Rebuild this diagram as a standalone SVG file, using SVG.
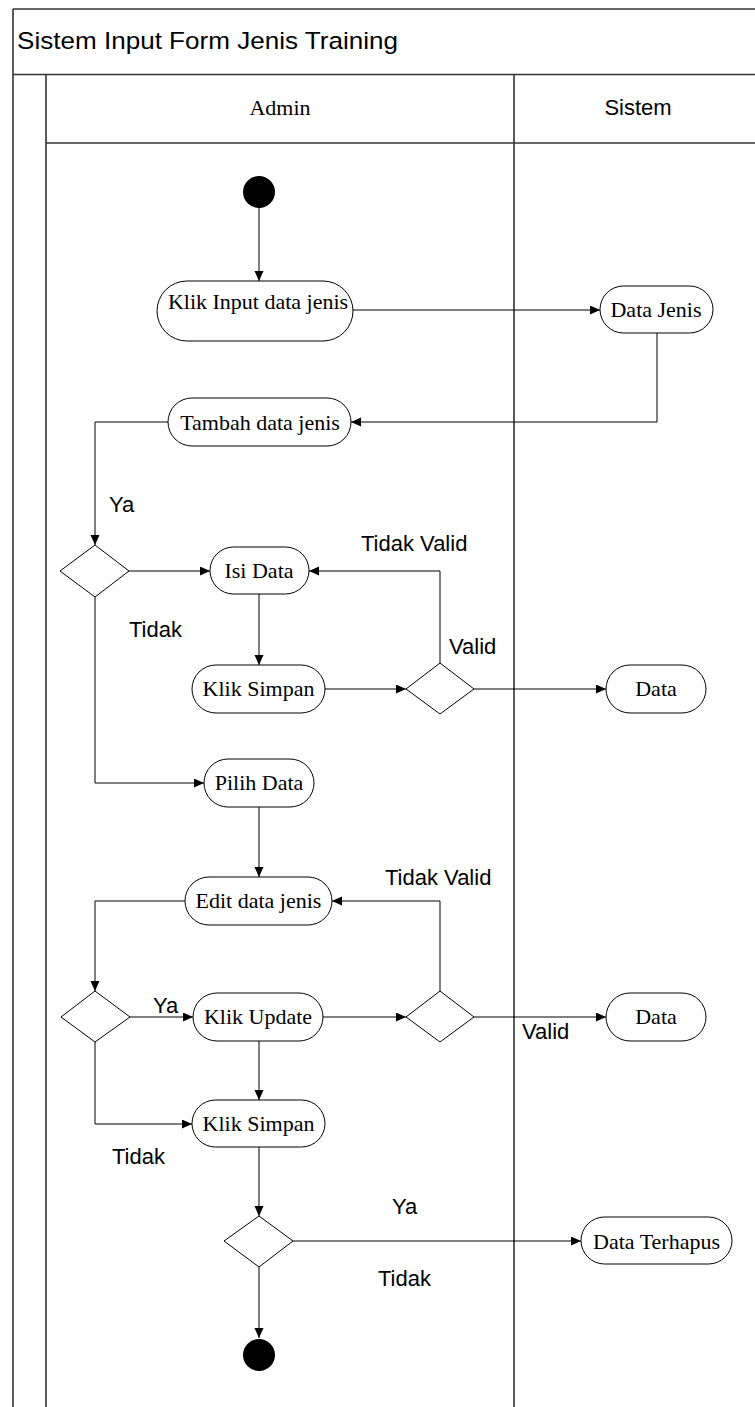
<svg xmlns="http://www.w3.org/2000/svg" width="755" height="1407" viewBox="0 0 755 1407">
<style>
.frame{stroke:#333;stroke-width:1.6;fill:none}
.node{fill:#fff;stroke:#000;stroke-width:1}
.lbl{font-family:"Liberation Serif","Times New Roman",serif;font-size:22px;fill:#000;text-anchor:middle}
.sans{font-family:"Liberation Sans",Arial,sans-serif;font-size:22px;fill:#000}
.conn path{fill:none;stroke:#000;stroke-width:1;marker-end:url(#arr)}
</style>
<defs>
<marker id="arr" markerUnits="userSpaceOnUse" markerWidth="11" markerHeight="10" refX="10" refY="4.5" orient="auto">
<path d="M0,0 L10,4.5 L0,9 z" fill="#000"/>
</marker>
</defs>
<rect width="755" height="1407" fill="#fff"/>
<g id="frame" class="frame">
<path d="M13,9 H755 M13,9 V1407 M13,74.5 H755 M46,74.5 V1407 M46,143 H755 M514,74.5 V1407"/>
</g>
<text class="sans" x="17" y="49" style="font-size:24.5px" textLength="381" lengthAdjust="spacingAndGlyphs">Sistem Input Form Jenis Training</text>
<text class="lbl" x="280" y="115">Admin</text>
<text class="sans" x="638" y="115" text-anchor="middle">Sistem</text>

<g id="connectors" class="conn">
<path d="M259,208 V281"/>
<path d="M353,310 H600"/>
<path d="M657,333 V422 H351"/>
<path d="M168,422 H95 V545"/>
<path d="M129,571 H210"/>
<path d="M440,663 V571 H309"/>
<path d="M259,594 V665"/>
<path d="M325,689 H406"/>
<path d="M474,689 H606"/>
<path d="M95,597 V783 H204"/>
<path d="M259,807 V877"/>
<path d="M440,991 V901 H332"/>
<path d="M185,901 H95 V991"/>
<path d="M130,1017 H193"/>
<path d="M323,1017 H406"/>
<path d="M474,1017 H606"/>
<path d="M259,1041 V1100"/>
<path d="M95,1042 V1124 H192"/>
<path d="M259,1147 V1216"/>
<path d="M293,1241 H581"/>
<path d="M259,1267 V1338"/>
</g>

<g id="start"><circle cx="259" cy="192" r="16" fill="#000"/></g>
<g id="klik-input"><rect class="node" x="157" y="281" width="196" height="60" rx="30"/><text class="lbl" x="258" y="309">Klik Input data jenis</text></g>
<g id="data-jenis"><rect class="node" x="600" y="286" width="113" height="47" rx="23.5"/><text class="lbl" x="656" y="317">Data Jenis</text></g>
<g id="tambah"><rect class="node" x="168" y="398" width="183" height="48" rx="24"/><text class="lbl" x="260" y="430">Tambah data jenis</text></g>
<g id="dec1"><polygon class="node" points="60,571 95,545 129,571 95,597"/></g>
<g id="isi-data"><rect class="node" x="210" y="547" width="99" height="47" rx="23.5"/><text class="lbl" x="259" y="578">Isi Data</text></g>
<g id="klik-simpan1"><rect class="node" x="192" y="665" width="133" height="48" rx="24"/><text class="lbl" x="258.5" y="696">Klik Simpan</text></g>
<g id="dec2"><polygon class="node" points="406,689 440,663 474,689 440,714"/></g>
<g id="data1"><rect class="node" x="606" y="665" width="100" height="48" rx="24"/><text class="lbl" x="656" y="696">Data</text></g>
<g id="pilih-data"><rect class="node" x="204" y="759" width="110" height="48" rx="24"/><text class="lbl" x="259" y="790">Pilih Data</text></g>
<g id="edit"><rect class="node" x="185" y="877" width="147" height="48" rx="24"/><text class="lbl" x="258.5" y="908">Edit data jenis</text></g>
<g id="dec4"><polygon class="node" points="61,1017 95,991 130,1017 95,1042"/></g>
<g id="klik-update"><rect class="node" x="193" y="993" width="130" height="48" rx="24"/><text class="lbl" x="258" y="1024">Klik Update</text></g>
<g id="dec3"><polygon class="node" points="406,1017 440,991 474,1017 440,1042"/></g>
<g id="data2"><rect class="node" x="606" y="993" width="100" height="48" rx="24"/><text class="lbl" x="656" y="1024">Data</text></g>
<g id="klik-simpan2"><rect class="node" x="192" y="1100" width="133" height="47" rx="23.5"/><text class="lbl" x="258.5" y="1131">Klik Simpan</text></g>
<g id="dec5"><polygon class="node" points="224,1241 259,1216 293,1241 259,1267"/></g>
<g id="data-terhapus"><rect class="node" x="581" y="1217" width="151" height="47" rx="23.5"/><text class="lbl" x="656.5" y="1249">Data Terhapus</text></g>
<g id="end"><circle cx="259" cy="1355" r="16" fill="#000"/></g>

<g id="labels" class="sans">
<text x="109" y="512">Ya</text>
<text x="361" y="551">Tidak Valid</text>
<text x="129" y="637">Tidak</text>
<text x="449" y="654">Valid</text>
<text x="385" y="885">Tidak Valid</text>
<text x="153" y="1013">Ya</text>
<text x="522" y="1039">Valid</text>
<text x="112" y="1164">Tidak</text>
<text x="392" y="1214">Ya</text>
<text x="378" y="1286">Tidak</text>
</g>
</svg>
